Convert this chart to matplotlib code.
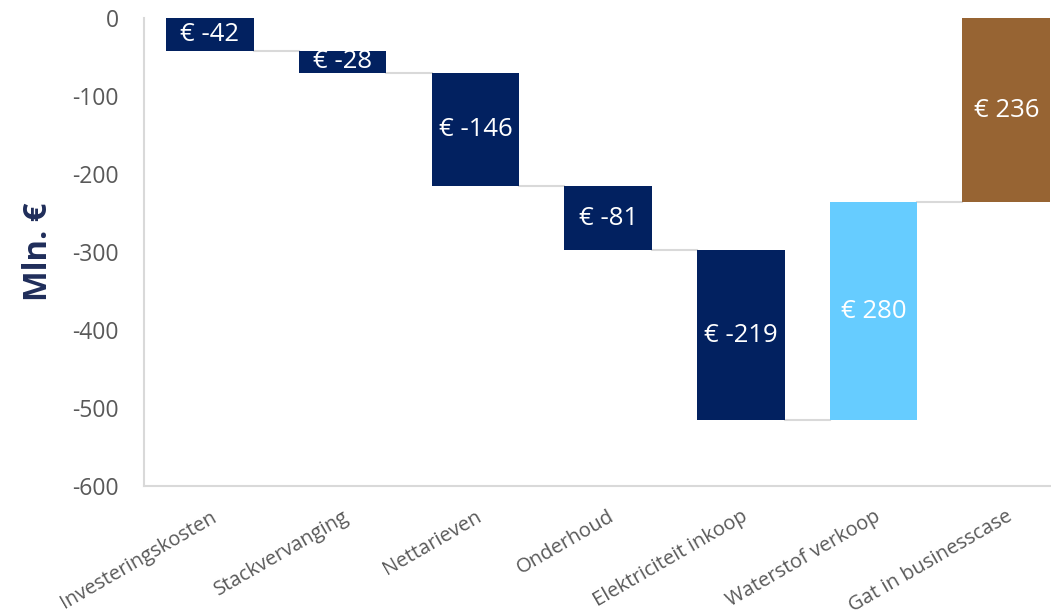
import matplotlib
matplotlib.use("Agg")
import matplotlib.pyplot as plt
import numpy as np

# Waterfall: kostenposten en opbrengsten (mln. euro)
categories = ["Investeringskosten", "Stackvervanging", "Nettarieven", "Onderhoud",
              "Elektriciteit inkoop", "Waterstof verkoop", "Gat in businesscase"]
values = [-42, -28, -146, -81, -219, 280, 236]
labels = ["€ -42", "€ -28", "€ -146", "€ -81", "€ -219", "€ 280", "€ 236"]
colors = ["#022160", "#022160", "#022160", "#022160", "#022160", "#66CCFF", "#976433"]

plt.rcParams['font.family'] = ['Open Sans', 'DejaVu Sans']
plt.rcParams['axes.unicode_minus'] = False

fig = plt.figure(figsize=(10.51, 6.16), dpi=100)
ax = fig.add_axes([0.1366, 0.211, 0.884, 0.7598])

x = np.arange(len(categories))
bottoms = np.concatenate([[0], np.cumsum(values)[:-1]])
width = 0.66

ax.bar(x, values, width, bottom=bottoms, color=colors, zorder=3)

# connector lines between consecutive bars
totals = np.cumsum(values)
for i in range(len(values) - 1):
    ax.plot([x[i] + width / 2, x[i + 1] - width / 2], [totals[i], totals[i]],
            color="#D9D9D9", lw=1.5, zorder=2)

for i in range(len(values)):
    ax.text(x[i], bottoms[i] + values[i] / 2, labels[i], ha="center", va="center",
            color="white", fontsize=18.5, zorder=4)

ax.set_xlim(-0.5, len(categories) - 0.5)
ax.set_ylim(-600, 0)
ax.set_yticks(np.arange(-600, 1, 100))
ax.set_xticks(x)
ax.set_xticklabels(categories, rotation=30, ha="right", va="top", rotation_mode="anchor")

ax.tick_params(axis="y", length=0, pad=18, labelsize=16.5, labelcolor="#595959")
ax.tick_params(axis="x", length=0, pad=15, labelsize=14.5, labelcolor="#595959")

for side in ["top", "right"]:
    ax.spines[side].set_visible(False)
for side in ["left", "bottom"]:
    ax.spines[side].set_color("#D9D9D9")
    ax.spines[side].set_linewidth(1.5)

ax.set_ylabel("Mln. €", fontsize=23.5, fontweight="bold", color="#1F2D5A", labelpad=12)

fig.savefig("out.png", dpi=100)
